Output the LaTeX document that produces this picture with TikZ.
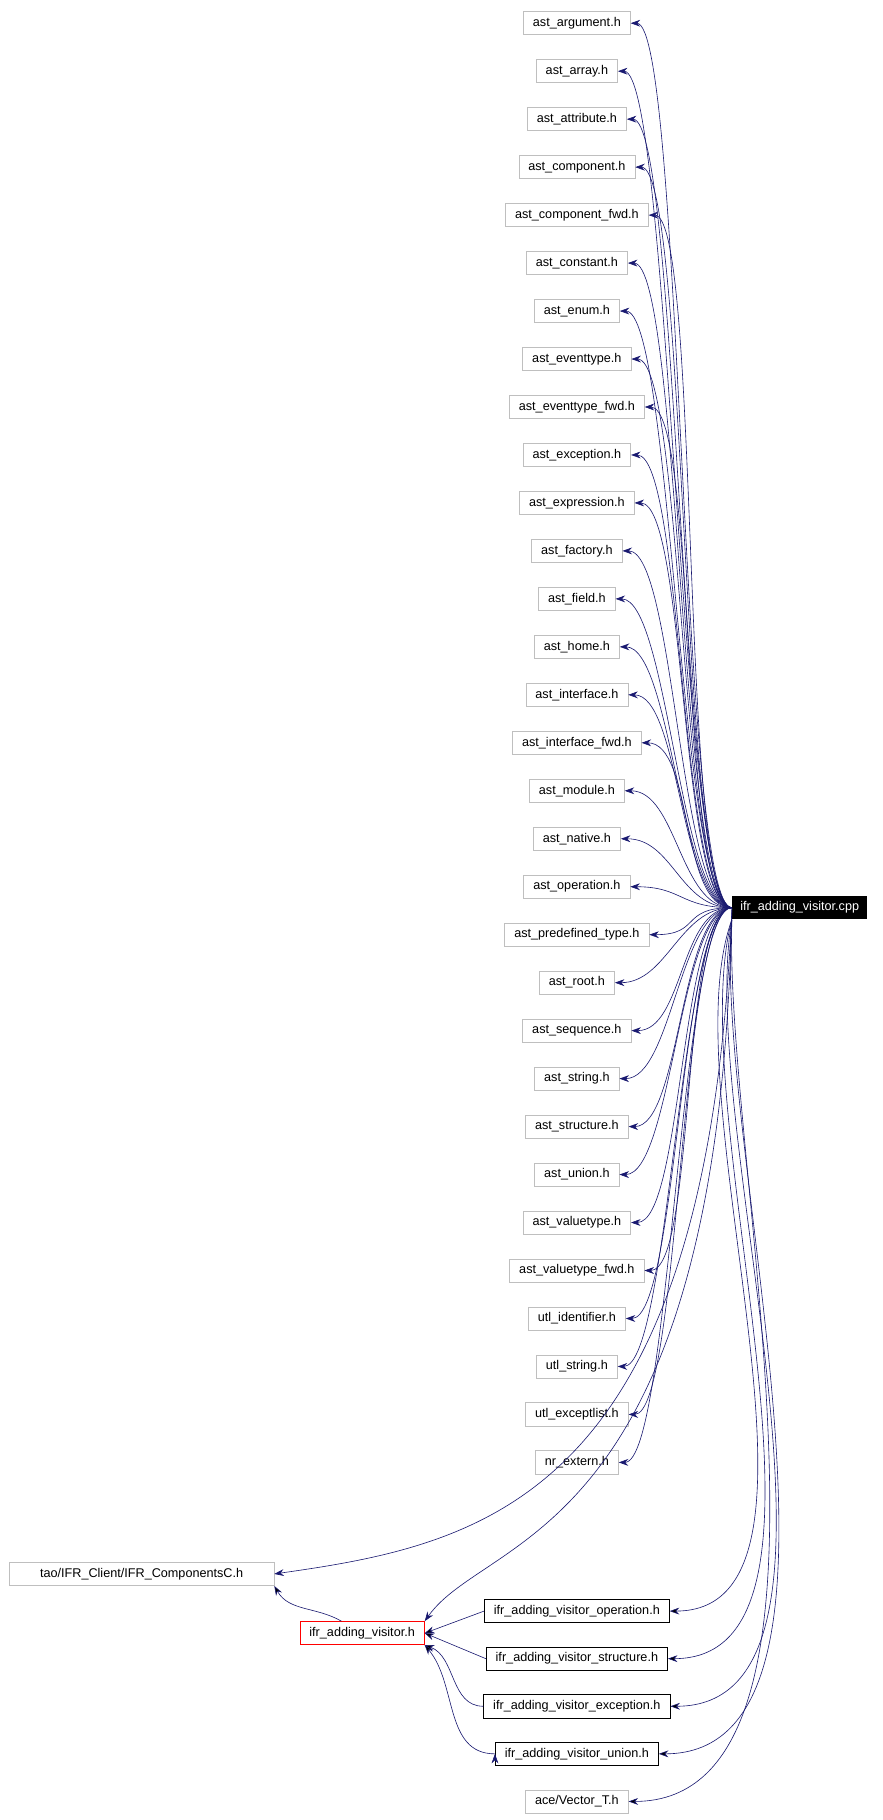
\documentclass[tikz,border=0pt]{standalone}
\usepackage{fontspec}
\setmainfont{Liberation Sans}
\usetikzlibrary{arrows.meta}
\definecolor{edgeblue}{HTML}{191970}
\definecolor{boxgray}{HTML}{BFBFBF}

\begin{document}
\begin{tikzpicture}[x=0.03cm,y=-0.03cm, every node/.style={font=\fontsize{9.3}{11}\selectfont},
      hdr/.style={draw=boxgray, line width=0.5pt, minimum height=0.6cm, inner xsep=7pt},
      blk/.style={draw=black, line width=0.5pt, minimum height=0.6cm, inner xsep=7pt},
      el/.style={draw=edgeblue, line width=0.45pt, -{Stealth[length=7pt,width=5pt]}}]

      \useasboundingbox (0,0) rectangle (760,1568);

      \node[fill=black, text=white, minimum height=0.6cm, inner xsep=6pt] (cpp) at (689,782) {ifr\_adding\_visitor.cpp};

      \foreach \name [count=\i] in {ast\_argument.h, ast\_array.h, ast\_attribute.h, ast\_component.h,
          ast\_component\_fwd.h, ast\_constant.h, ast\_enum.h, ast\_eventtype.h, ast\_eventtype\_fwd.h,
          ast\_exception.h, ast\_expression.h, ast\_factory.h, ast\_field.h, ast\_home.h, ast\_interface.h,
          ast\_interface\_fwd.h, ast\_module.h, ast\_native.h, ast\_operation.h, ast\_predefined\_type.h,
          ast\_root.h, ast\_sequence.h, ast\_string.h, ast\_structure.h, ast\_union.h, ast\_valuetype.h,
          ast\_valuetype\_fwd.h, utl\_identifier.h, utl\_string.h, utl\_exceptlist.h, nr\_extern.h}
      {
        \node[hdr] (h\i) at (497,{20+(\i-1)*41.33}) {\name};
        \draw[el] (cpp.west) .. controls +(-45,0) and +(45,0) .. (h\i.east);
      }

      \node[hdr, minimum width=6.84cm] (comp) at (122,1356) {tao/IFR\_Client/IFR\_ComponentsC.h};
      \node[draw=red, line width=0.5pt, minimum height=0.6cm, inner xsep=7pt] (vis) at (312,1407) {ifr\_adding\_visitor.h};
      \node[blk] (vop) at (497,1388) {ifr\_adding\_visitor\_operation.h};
      \node[blk] (vst) at (497,1429) {ifr\_adding\_visitor\_structure.h};
      \node[blk] (vex) at (497,1470) {ifr\_adding\_visitor\_exception.h};
      \node[blk] (vun) at (497,1511) {ifr\_adding\_visitor\_union.h};
      \node[hdr] (vec) at (497,1552) {ace/Vector\_T.h};

      \path[el]
        (cpp.south west) edge [out=250, in=0, looseness=0.7] (vop.east)
        (cpp.south west) edge [out=255, in=0, looseness=0.7] (vst.east)
        (cpp.south west) edge [out=260, in=0, looseness=0.7] (vex.east)
        (cpp.south west) edge [out=265, in=0, looseness=0.7] (vun.east)
        (cpp.south west) edge [out=268, in=0, looseness=0.7] (vec.east)
        (vis) edge [out=150, in=-60] (comp.south east)
        (vop.west) edge [] (vis.east)
        (vst.west) edge [] (vis.east)
        (vex.west) edge [out=180, in=-20] (vis.south east)
        (vun.west) edge [out=180, in=-50] (vis.south east);
      \path[el] (cpp.west) .. controls (610,1290) and (420,1330) .. (comp.east);
      \path[el] (cpp.west) .. controls (620,1330) and (420,1320) .. (vis.north east);

    \end{tikzpicture}
\end{document}
